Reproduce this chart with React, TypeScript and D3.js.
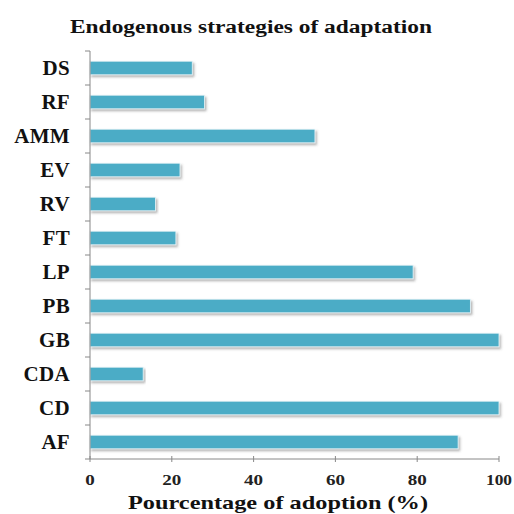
import React from "react";
import * as d3 from "d3";

const categories = ["DS", "RF", "AMM", "EV", "RV", "FT", "LP", "PB", "GB", "CDA", "CD", "AF"];
const values = [25, 28, 55, 22, 16, 21, 79, 93, 100, 13, 100, 90];
const xTicks = [0, 20, 40, 60, 80, 100];
const title = "Endogenous strategies of adaptation";
const xLabel = "Pourcentage of  adoption  (%)";

export default function App() {
  const W = 514, H = 514;
  const left = 90, right = 499, top = 51, bottom = 459;
  const x = d3.scaleLinear().domain([0, 100]).range([left, right]);
  const y = d3.scaleBand<string>().domain(categories).range([top, bottom]).paddingInner(0.6).paddingOuter(0.3);
  const step = (bottom - top) / categories.length;
  const font = "'Liberation Serif', 'Times New Roman', serif";
  const tickLen = (t: number) => String(t).split("").reduce((s, ch) => s + (ch === "1" ? 7 : 9.5), 0);
  return (
    <svg width={W} height={H} style={{ position: "absolute", left: 0, top: 0, background: "#fff" }}>
      <defs>
        <filter id="sh" x="-5%" y="-50%" width="110%" height="200%">
          <feDropShadow dx="1.5" dy="2" stdDeviation="1" floodColor="#555" floodOpacity="0.45" />
        </filter>
      </defs>
      <text x={251} y={33} textAnchor="middle" fontFamily={font} fontWeight="bold" fontSize={18} fill="#111" textLength={362} lengthAdjust="spacingAndGlyphs">{title}</text>
      {categories.map((c, i) => (
        <g key={c}>
          <rect x={x(0)} y={y(c)!} width={x(values[i]) - x(0)} height={y.bandwidth()} fill="#4BACC6" stroke="#e8f4f8" strokeWidth={0.8} filter="url(#sh)" />
          <text x={70} y={y(c)! + y.bandwidth() / 2} dy="0.35em" textAnchor="end" fontFamily={font} fontWeight="bold" fontSize={21} fill="#111" letterSpacing={0.3}>{c}</text>
        </g>
      ))}
      <line x1={left} x2={left} y1={top} y2={bottom} stroke="#888" strokeWidth={1} />
      {d3.range(categories.length + 1).map(i => (
        <line key={i} x1={left - 5} x2={left} y1={top + i * step} y2={top + i * step} stroke="#888" strokeWidth={1} />
      ))}
      <line x1={left} x2={right} y1={bottom} y2={bottom} stroke="#888" strokeWidth={1} />
      {xTicks.map(t => (
        <g key={t}>
          <line x1={x(t)} x2={x(t)} y1={bottom - 3} y2={bottom + 3} stroke="#888" strokeWidth={1} />
          <text x={x(t)} y={485} textAnchor="middle" fontFamily={font} fontWeight="bold" fontSize={14.5} fill="#222" textLength={tickLen(t)} lengthAdjust="spacingAndGlyphs">{t}</text>
        </g>
      ))}
      <text x={278} y={509} textAnchor="middle" fontFamily={font} fontWeight="bold" fontSize={19.5} fill="#111" textLength={300} lengthAdjust="spacingAndGlyphs">{xLabel}</text>
    </svg>
  );
}
